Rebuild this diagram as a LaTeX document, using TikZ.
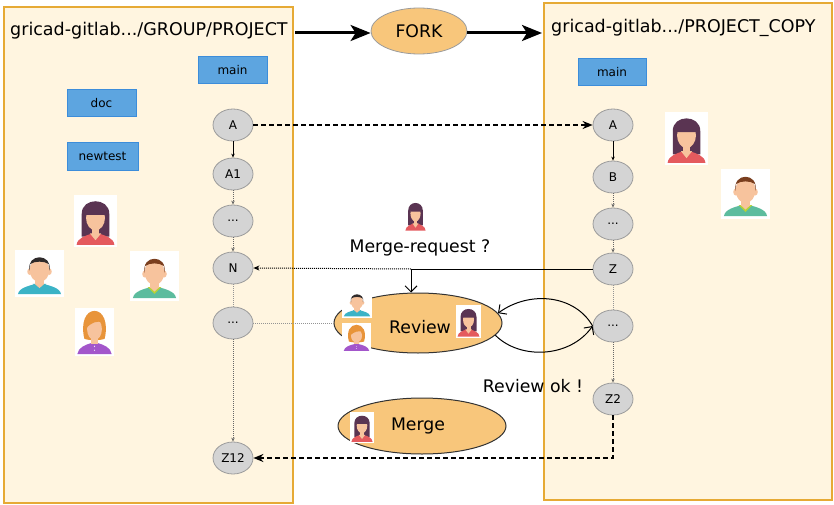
\documentclass[tikz,border=0pt]{standalone}
\usepackage{fontspec}
\setmainfont{DejaVu Sans}
\usetikzlibrary{arrows.meta,shapes.geometric}

\definecolor{repoedge}{HTML}{E6AA35}
\definecolor{repofill}{HTML}{FFF5E0}
\definecolor{branchfill}{HTML}{5DA5E0}
\definecolor{branchedge}{HTML}{3C8DDA}
\definecolor{commitfill}{HTML}{D4D4D4}
\definecolor{commitedge}{HTML}{9C9C9C}
\definecolor{actfill}{HTML}{F8C67B}
\definecolor{actedge}{HTML}{333333}
\definecolor{skin}{HTML}{F7C39D}
\definecolor{hairdark}{HTML}{5A3452}
\definecolor{hairblack}{HTML}{2F2A2A}
\definecolor{hairbrown}{HTML}{7A3E1E}
\definecolor{hairorange}{HTML}{E8943A}
\definecolor{shirtred}{HTML}{E45A5E}
\definecolor{shirtteal}{HTML}{3BB3C6}
\definecolor{shirtgreen}{HTML}{5CBC9E}
\definecolor{collargreen}{HTML}{B6D335}
\definecolor{shirtpurple}{HTML}{A356CB}
\definecolor{dotgray}{HTML}{666666}

\newcommand{\fsz}[1]{\fontsize{#1}{#1}\selectfont}

\tikzset{
  repo/.style={draw=repoedge, fill=repofill, line width=2.5pt},
  title/.style={anchor=base west, inner sep=0pt, font=\fsz{17.5}},
  branch/.style={draw=branchedge, fill=branchfill, line width=1pt,
    minimum height=27pt, inner sep=0pt, font=\fsz{12}},
  commit/.style={ellipse, draw=commitedge, fill=commitfill, line width=0.8pt,
    minimum width=40pt, minimum height=32pt, inner sep=0pt, font=\fsz{12}},
  activity/.style={ellipse, draw=actedge, fill=actfill, line width=1pt,
    inner sep=0pt, font=\fsz{17.3}},
  label/.style={inner sep=0pt, font=\fsz{17.3}},
  forkarrow/.style={line width=3pt, -{Stealth[length=20pt,width=16pt,inset=5pt]}},
  dasharrow/.style={line width=1.8pt, dash pattern=on 5pt off 3pt,
    -{Stealth[length=10pt,width=8pt]}},
  solidstep/.style={line width=0.7pt, -{Stealth[length=4pt,width=3.5pt]}},
  dotstep/.style={line width=0.7pt, dotgray, dash pattern=on 1pt off 1pt,
    -{Stealth[length=4pt,width=3.5pt]}},
  dotlink/.style={line width=0.7pt, dotgray!70, dash pattern=on 1pt off 1pt},
  reqarrow/.style={line width=1pt, dash pattern=on 1pt off 1pt,
    -{Stealth[length=6pt,width=5pt]}},
  looparrow/.style={line width=1pt, -{Straight Barb[length=6pt,width=12pt]}},
  % simple person avatars drawn in a unit box, origin top-left
  pics/womandark/.style={code={
    \fill[white] (0,0) rectangle (1,1);
    \fill[hairdark] (0.18,0.8) -- (0.18,0.36) .. controls (0.18,0.04) and (0.82,0.04) .. (0.82,0.36) -- (0.82,0.8) -- cycle;
    \fill[shirtred] (0.06,0.96) .. controls (0.08,0.82) and (0.28,0.78) .. (0.42,0.74) -- (0.58,0.74) .. controls (0.72,0.78) and (0.92,0.82) .. (0.94,0.96) -- cycle;
    \fill[skin] (0.42,0.58) rectangle (0.58,0.76);
    \fill[skin] (0.37,0.74) -- (0.63,0.74) -- (0.5,0.87) -- cycle;
    \fill[skin] (0.5,0.44) ellipse [x radius=0.22, y radius=0.24];
    \fill[hairdark] (0.27,0.38) .. controls (0.26,0.1) and (0.74,0.1) .. (0.73,0.38) -- cycle;
  }},
  pics/man/.style n args={3}{code={
    \fill[white] (0,0) rectangle (1,1);
    \fill[#2] (0.06,0.94) .. controls (0.08,0.8) and (0.3,0.76) .. (0.42,0.72) -- (0.58,0.72) .. controls (0.7,0.76) and (0.92,0.8) .. (0.94,0.94) -- cycle;
    \fill[#3] (0.36,0.72) -- (0.64,0.72) -- (0.5,0.86) -- cycle;
    \fill[skin] (0.41,0.55) rectangle (0.59,0.73);
    \fill[skin] (0.4,0.72) -- (0.6,0.72) -- (0.5,0.81) -- cycle;
    \fill[skin] (0.3,0.46) ellipse [x radius=0.05, y radius=0.07];
    \fill[skin] (0.7,0.46) ellipse [x radius=0.05, y radius=0.07];
    \fill[skin] (0.5,0.43) ellipse [x radius=0.2, y radius=0.25];
    \fill[#1] (0.3,0.44) .. controls (0.22,0.06) and (0.78,0.06) .. (0.7,0.44) -- (0.69,0.3) .. controls (0.6,0.23) and (0.4,0.23) .. (0.31,0.3) -- cycle;
  }},
  pics/womanorange/.style={code={
    \fill[white] (0,0) rectangle (1,1);
    \fill[hairorange] (0.24,0.64) .. controls (0.14,0.3) and (0.28,0.06) .. (0.5,0.06) .. controls (0.72,0.06) and (0.86,0.3) .. (0.76,0.64) .. controls (0.66,0.68) and (0.34,0.68) .. (0.24,0.64) -- cycle;
    \fill[shirtpurple] (0.06,0.96) .. controls (0.08,0.82) and (0.28,0.76) .. (0.42,0.73) -- (0.58,0.73) .. controls (0.72,0.76) and (0.92,0.82) .. (0.94,0.96) -- cycle;
    \fill[skin] (0.42,0.56) rectangle (0.58,0.74);
    \fill[skin] (0.5,0.44) ellipse [x radius=0.19, y radius=0.23];
    \fill[hairorange] (0.29,0.42) .. controls (0.28,0.14) and (0.56,0.1) .. (0.72,0.3) .. controls (0.56,0.26) and (0.42,0.3) .. (0.29,0.42) -- cycle;
    \fill[white!85!shirtpurple] (0.5,0.8) circle [radius=0.015];
    \fill[white!85!shirtpurple] (0.5,0.88) circle [radius=0.015];
  }},
}

\begin{document}
\begin{tikzpicture}[x=1pt, y=-1pt]
\useasboundingbox (0,0) rectangle (834,505);
\fill[white] (0,0) rectangle (834,505);

% the two repositories
\node[repo, minimum width=289pt, minimum height=496pt, inner sep=0pt] (left) at (148.5,255) {};
\node[repo, minimum width=288pt, minimum height=497pt, inner sep=0pt] (right) at (688,251.5) {};
\node[title] (lefttitle) at (10,36) {gricad-gitlab.../GROUP/PROJECT};
\node[title] (righttitle) at (551,33) {gricad-gitlab.../PROJECT\_COPY};

% fork step
\node[ellipse, draw=commitedge, fill=actfill, line width=0.8pt, minimum width=96pt,
  minimum height=46pt, inner sep=0pt, font=\fsz{17.3}] (fork) at (419,31) {FORK};
\coordinate (forkin) at (295,33);
\coordinate (forkout) at (542,33);
\draw[forkarrow] (forkin) -- (fork.west |- forkin);
\draw[forkarrow] (fork.east |- forkout) -- (forkout);

% branches
\node[branch, minimum width=69pt] (lmain) at (232.5,70.5) {main};
\node[branch, minimum width=69pt] (doc) at (101.5,103.5) {doc};
\node[branch, minimum width=71pt] (newtest) at (102.5,156.5) {newtest};
\node[branch, minimum width=68pt] (rmain) at (612,72.5) {main};

% commits of the original project
\node[commit] (lA) at (233,125) {A};
\node[commit] (lA1) at (233,174) {A1};
\node[commit] (ld1) at (233,221) {...};
\node[commit] (lN) at (233,268) {N};
\node[commit] (ld2) at (233,323) {...};
\node[commit] (lZ12) at (233,458) {Z12};

% commits of the copy
\node[commit] (rA) at (613,125) {A};
\node[commit] (rB) at (613,177) {B};
\node[commit] (rd1) at (613,224) {...};
\node[commit] (rZ) at (613,269) {Z};
\node[commit] (rd2) at (613,326) {...};
\node[commit] (rZ2) at (613,399) {Z2};

\draw[solidstep] (lA) -- (lA1);
\draw[dotstep] (lA1) -- (ld1);
\draw[dotstep] (ld1) -- (lN);
\draw[dotlink] (lN) -- (ld2);
\draw[dotstep] (ld2) -- (lZ12);

\draw[solidstep] (rA) -- (rB);
\draw[dotstep] (rB) -- (rd1);
\draw[dotstep] (rd1) -- (rZ);
\draw[dotlink] (rZ) -- (rd2);
\draw[dotstep] (rd2) -- (rZ2);

% activities
\node[activity, minimum width=168pt, minimum height=60pt] (review) at (418,323) {};
\node[label] (reviewtext) at (420,327) {Review};
\node[activity, minimum width=168pt, minimum height=56pt] (merge) at (422,426) {};
\node[label] (mergetext) at (418,426) {Merge};
\node[label] (mrtext) at (420,248) {Merge-request ?};
\node[label] (oktext) at (533,386) {Review ok !};

% copying and merging
\draw[dasharrow] (lA) -- (rA);
\draw[dasharrow] (rZ2.south) |- (lZ12.east);

% merge request and review loop
\coordinate (jn) at (411,269);
\draw[reqarrow] (jn) -- (lN.east);
\draw[looparrow] (rZ.west) -- (jn) -- (jn |- review.north);
\draw[dotlink] (ld2.east) -- (review.west);
\draw[looparrow] (rd2.west) .. controls (575,295) and (530,290) .. (review.7);
\draw[looparrow] (review.-9) .. controls (520,360) and (570,358) .. (rd2.west);

% people
\pic[xscale=43, yscale=52] at (74,195) {womandark};
\pic[xscale=49, yscale=47] at (15,250) {man={hairblack}{shirtteal}{shirtteal}};
\pic[xscale=49, yscale=50] at (130,251) {man={hairbrown}{shirtgreen}{collargreen}};
\pic[xscale=39, yscale=48] at (75,308) {womanorange};
\pic[xscale=43, yscale=53] at (665,112) {womandark};
\pic[xscale=49, yscale=50] at (721,169) {man={hairbrown}{shirtgreen}{collargreen}};
\pic[xscale=23, yscale=33] at (404,199) {womandark};
\pic[xscale=30, yscale=28] at (342,290) {man={hairblack}{shirtteal}{shirtteal}};
\pic[xscale=29, yscale=29] at (342,323) {womanorange};
\pic[xscale=25, yscale=33] at (456,305) {womandark};
\pic[xscale=24, yscale=31] at (350,412) {womandark};
\end{tikzpicture}
\end{document}
